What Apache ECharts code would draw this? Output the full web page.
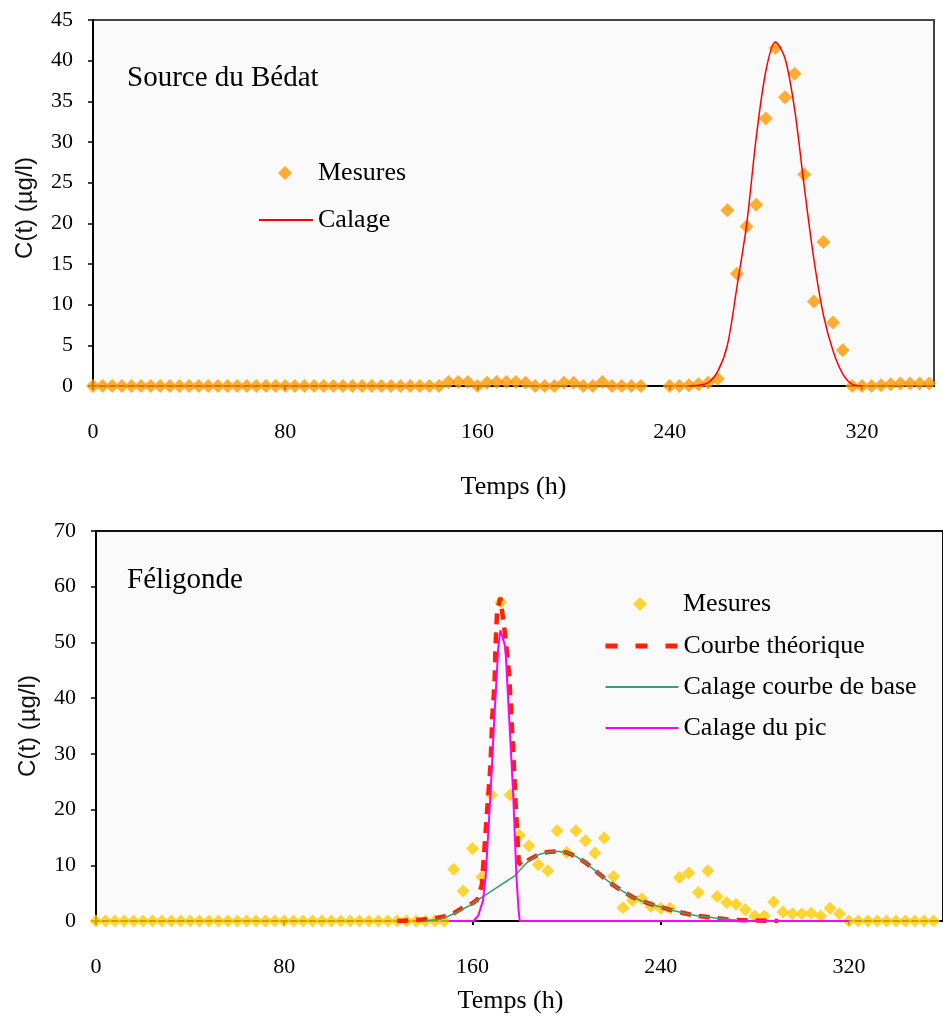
<!DOCTYPE html>
<html><head><meta charset="utf-8">
<script src="https://cdn.jsdelivr.net/npm/echarts@6/dist/echarts.min.js"></script>
<style>html,body{margin:0;padding:0;background:#fff}#c{width:943px;height:1020px}</style>
</head><body><div id="c"></div>
<script>
// ---------- Source du Bédat ----------
const bedatTime = [0,4,8,12,16,20,24,28,32,36,40,44,48,52,56,60,64,68,72,76,80,84,88,92,96,100,104,108,112,116,120,124,128,132,136,140,144,148,152,156,160,164,168,172,176,180,184,188,192,196,200,204,208,212,216,220,224,228,
  240,244,248,252,256,260,264,268,272,276,280,284,288,292,296,300,304,308,312,316,320,324,328,332,336,340,344,348];
const bedatMeasure = [0,0,0,0,0,0,0,0,0,0,0,0,0,0,0,0,0,0,0,0,0,0,0,0,0,0,0,0,0,0,0,0,0,0,0,0,0,0.5,0.5,0.5,0,0.4,0.5,0.5,0.5,0.4,0,0,0,0.4,0.4,0,0,0.5,0,0,0,0,
  0,0,0.1,0.2,0.4,0.9,21.6,13.8,19.6,22.3,32.9,41.6,35.5,38.4,26.0,10.4,17.7,7.8,4.4,0,0,0,0.1,0.2,0.3,0.3,0.3,0.3];
const bedatFitTime = [248,252,256,260,264,268,272,276,280,284,288,292,296,300,304,308,312,316,320];
const bedatFit = [0,0.1,0.4,1.8,5.0,12.2,19.8,30.5,38.7,42.3,40.3,34.0,24.5,15.6,8.7,4.3,1.5,0.2,0];

// ---------- Féligonde ----------
const feliTime = [0,4,8,12,16,20,24,28,32,36,40,44,48,52,56,60,64,68,72,76,80,84,88,92,96,100,104,108,112,116,120,124,128,132,136,140,144,148,
  152,156,160,164,168,172,176,180,184,188,192,196,200,204,208,212,216,220,224,228,232,236,240,244,248,252,256,260,264,268,272,276,280,284,288,292,296,300,304,308,312,316,
  320,324,328,332,336,340,344,348,352,356];
const feliMeasure = [0,0,0,0,0,0,0,0,0,0,0,0,0,0,0,0,0,0,0,0,0,0,0,0,0,0,0,0,0,0,0,0,0,0,0,0,0,0,
  9.3,5.4,13.0,7.9,22.6,57.2,22.6,15.4,13.5,10.1,9.0,16.2,12.3,16.2,14.4,12.2,14.9,8.0,2.4,3.7,4.0,2.6,2.3,2.3,7.8,8.6,5.1,9.0,4.4,3.3,3.0,2.0,0.9,0.9,3.4,1.6,1.3,1.3,1.4,0.9,2.3,1.3,
  0,0,0,0,0,0,0,0,0,0];
const feliTheoTime = [128,134,140,144,148,152,156,160,162,164,165.2,166.3,167.7,168.4,169.4,169.8,170.5,171.9,174,175.5,176.4,177.6,178.3,179.7,181,184,188,192,196,200,204,208,212,216,220,224,228,232,236,240,244,248,252,256,260,264,268,272,280,290];
const feliTheo = [0,0.1,0.3,0.5,0.8,1.4,2.4,3.2,3.8,6.5,13.6,20.2,28,36.4,42.6,49.2,55.8,58,51,44.7,38,28,21.4,10.5,10,11,11.9,12.4,12.5,12.3,11.6,10.5,9.1,7.7,6.4,5.3,4.3,3.6,3.0,2.5,2.0,1.6,1.2,0.9,0.7,0.5,0.3,0.2,0.1,0];
const feliBaseTime = [140,146,150,154,158,162,166,170,174,178,181,184,188,192,196,200,204,208,212,216,220,224,228,232,236,240,244,248,252,256,260,264,268,272];
const feliBase = [0,0.3,0.9,1.7,2.6,3.7,4.8,5.9,7.0,8.1,9.5,10.8,11.9,12.4,12.5,12.3,11.6,10.5,9.1,7.7,6.4,5.3,4.3,3.6,3.0,2.5,2.0,1.6,1.2,0.9,0.7,0.5,0.3,0.2];
const feliPeakTime = [150,160.5,162.5,164.5,165.6,167.7,169.4,171,171.9,174,175.5,177.3,178.7,179.6,180.1,320];
const feliPeak = [0,0,1,3.7,7.9,22.9,37.2,49.2,52.2,49.2,37.2,22.9,7.9,2,0,0];

const xTickInterval = 80;

const zip = (a, b) => a.map((v, i) => [v, b[i]]);

const SERIF = 'Liberation Serif';
const SANS = 'Liberation Sans';

function xAxis(gridIndex, max, nameGap, namePad) {
  return {
    type: 'value', gridIndex, min: 0, max, interval: xTickInterval,
    name: 'Temps (h)', nameLocation: 'middle', nameGap,
    nameTextStyle: { fontFamily: SERIF, fontSize: 26, color: '#000', padding: namePad },
    axisLine: { show: true, onZero: false, lineStyle: { color: '#000', width: 2 } },
    axisTick: { show: true, length: 4, lineStyle: { color: '#000', width: 2 } },
    axisLabel: { fontFamily: SERIF, fontSize: 22, color: '#000', margin: 35, showMaxLabel: false,
      formatter: v => (v % xTickInterval === 0 ? String(v) : '') },
    splitLine: { show: false }
  };
}
function yAxis(gridIndex, max, interval, namePad) {
  return {
    type: 'value', gridIndex, min: 0, max, interval,
    name: 'C(t) (µg/l)', nameLocation: 'middle', nameGap: 56, nameRotate: 90,
    nameTextStyle: { fontFamily: SANS, fontSize: 24, color: '#111', padding: namePad },
    axisLine: { show: true, lineStyle: { color: '#000', width: 2 } },
    axisTick: { show: true, length: 5, lineStyle: { color: '#000', width: 1.5 } },
    axisLabel: { fontFamily: SERIF, fontSize: 22, color: '#000', margin: 20 },
    splitLine: { show: false }
  };
}

const legendText = { fontFamily: SERIF, fontSize: 26, color: '#000' };
const noSymbol = { color: 'rgba(0,0,0,0)', opacity: 0, borderWidth: 0 };

const option = {
  animation: false,
  backgroundColor: '#ffffff',
  title: [
    { text: 'Source du Bédat', left: 127, top: 64, padding: 0, textStyle: { fontFamily: SERIF, fontSize: 29, fontWeight: 'normal', color: '#000' } },
    { text: 'Féligonde', left: 127, top: 566, padding: 0, textStyle: { fontFamily: SERIF, fontSize: 29, fontWeight: 'normal', color: '#000' } }
  ],
  grid: [
    { left: 93, top: 20, width: 841, height: 366, show: true, backgroundColor: '#fafafa', borderColor: '#444', borderWidth: 2 },
    { left: 96, top: 531, width: 853, height: 390, show: true, backgroundColor: '#fafafa', borderColor: '#111', borderWidth: 2 }
  ],
  xAxis: [ xAxis(0, 350, 88, [0, 0, 0, 0]), xAxis(1, 360, 67, [0, 18, 0, 0]) ],
  yAxis: [ yAxis(0, 45, 5, [0, 10, 0, 0]), yAxis(1, 70, 10, [0, 0, 0, 0]) ],
  legend: [
    { selectedMode: false, left: 278, top: 160, itemWidth: 14, itemHeight: 14, padding: 0,
      data: [{ name: 'Mesures', icon: 'diamond', itemStyle: { color: '#FF9900' } }],
      textStyle: Object.assign({ padding: [0, 0, 0, 21] }, legendText) },
    { selectedMode: false, left: 258, top: 207, itemWidth: 54, itemHeight: 14, padding: 0,
      data: [{ name: 'Calage', itemStyle: noSymbol }], textStyle: legendText },
    { selectedMode: false, left: 633, top: 591, itemWidth: 14, itemHeight: 14, padding: 0,
      data: [{ name: 'Mesures', icon: 'diamond', itemStyle: { color: '#FFCC00' } }],
      textStyle: Object.assign({ padding: [0, 0, 0, 31] }, legendText) },
    { selectedMode: false, orient: 'vertical', left: 603, top: 633, itemWidth: 73, itemHeight: 14, itemGap: 15, padding: 0,
      data: [
        { name: 'Courbe théorique', itemStyle: noSymbol, lineStyle: { width: 5, type: [12, 18] } },
        { name: 'Calage courbe de base', itemStyle: noSymbol },
        { name: 'Calage du pic', itemStyle: noSymbol }
      ], textStyle: legendText }
  ],
  series: [
    { name: 'Mesures', type: 'scatter', xAxisIndex: 0, yAxisIndex: 0, symbol: 'diamond', symbolSize: 14,
      itemStyle: { color: '#FF9900' }, data: zip(bedatTime, bedatMeasure), z: 2 },
    { name: 'Calage', type: 'line', xAxisIndex: 0, yAxisIndex: 0, symbol: 'none', smooth: 0.3,
      lineStyle: { color: '#FF0000', width: 1.5 }, itemStyle: { color: '#FF0000' }, data: zip(bedatFitTime, bedatFit), z: 3 },

    { name: 'Mesures', type: 'scatter', xAxisIndex: 1, yAxisIndex: 1, symbol: 'diamond', symbolSize: 13,
      itemStyle: { color: '#FFCC00' }, data: zip(feliTime, feliMeasure), z: 2 },
    { name: 'Courbe théorique', type: 'line', xAxisIndex: 1, yAxisIndex: 1, symbol: 'none',
      lineStyle: { color: '#FF2200', width: 4.5, type: [11, 8] }, itemStyle: { color: '#FF2200' }, data: zip(feliTheoTime, feliTheo), z: 3 },
    { name: 'Calage courbe de base', type: 'line', xAxisIndex: 1, yAxisIndex: 1, symbol: 'none',
      lineStyle: { color: '#3C9E73', width: 1.5 }, itemStyle: { color: '#3C9E73' }, data: zip(feliBaseTime, feliBase), z: 4 },
    { name: 'Calage du pic', type: 'line', xAxisIndex: 1, yAxisIndex: 1, symbol: 'none',
      lineStyle: { color: '#FF00FF', width: 2 }, itemStyle: { color: '#FF00FF' }, data: zip(feliPeakTime, feliPeak), z: 5 }
  ]
};

const chart = echarts.init(document.getElementById('c'), null, { renderer: 'canvas' });
chart.setOption(option);
</script>
</body></html>
